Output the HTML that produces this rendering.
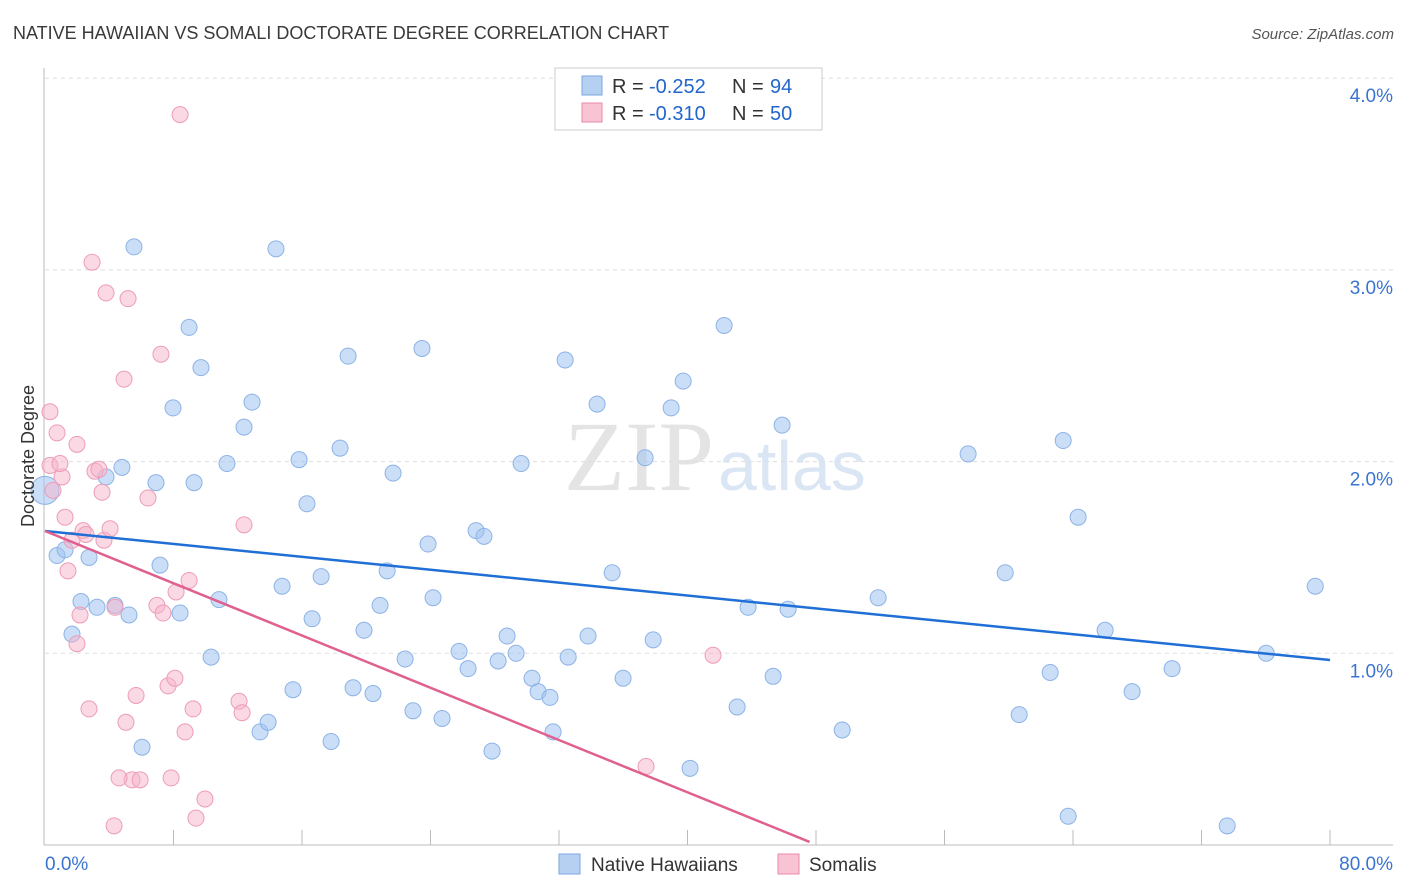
<!DOCTYPE html>
<html><head><meta charset="utf-8"><style>
body{margin:0;background:#fff;font-family:"Liberation Sans",sans-serif;}
svg{display:block}
</style></head><body>
<svg id="chart" width="1406" height="892">
<text x="13" y="39" font-size="18" fill="#3a3a3a">NATIVE HAWAIIAN VS SOMALI DOCTORATE DEGREE CORRELATION CHART</text>
<text x="1394" y="39" font-size="15" fill="#555" font-style="italic" text-anchor="end">Source: ZipAtlas.com</text>
<text x="714" y="490" font-size="100" fill="#e4e4e4" text-anchor="end" font-family="Liberation Serif">ZIP</text>
<text x="718" y="490" font-size="70" fill="#dbe6f5">atlas</text>
<g id="grid"></g>
<g id="axes"></g>
<g id="pts"></g>
<g id="lines"></g>
<text transform="translate(34,456) rotate(-90)" font-size="18" fill="#333" text-anchor="middle">Doctorate Degree</text>
<g>
<rect x="555" y="68" width="267" height="62" fill="#fff" stroke="#ccc"/>
<rect x="582" y="76" width="20" height="19" fill="#b6d0f2" stroke="#7aa6e0"/>
<rect x="582" y="103" width="20" height="19" fill="#f8c3d3" stroke="#e98aa8"/>
<text x="612" y="93" font-size="20" fill="#333">R =</text>
<text x="649" y="93" font-size="20" fill="#2266cc">-0.252</text>
<text x="732" y="93" font-size="20" fill="#333">N =</text>
<text x="770" y="93" font-size="20" fill="#2266cc">94</text>
<text x="612" y="120" font-size="20" fill="#333">R =</text>
<text x="649" y="120" font-size="20" fill="#2266cc">-0.310</text>
<text x="732" y="120" font-size="20" fill="#333">N =</text>
<text x="770" y="120" font-size="20" fill="#2266cc">50</text>
</g>
<g>
<rect x="559" y="854" width="21" height="20" fill="#b6d0f2" stroke="#7aa6e0"/>
<text x="591" y="871" font-size="19" fill="#333">Native Hawaiians</text>
<rect x="778" y="854" width="21" height="20" fill="#f8c3d3" stroke="#e98aa8"/>
<text x="809" y="871" font-size="19" fill="#333">Somalis</text>
</g>
</svg>
<script>
const blueX=[0.0,0.75,1.25,1.68,2.24,2.74,3.24,3.80,4.36,4.79,5.23,5.54,6.04,6.91,7.16,7.97,8.41,8.97,9.28,9.71,10.34,10.83,11.33,12.39,12.89,13.39,13.89,14.38,14.76,15.44,15.82,16.31,16.63,17.19,17.81,18.37,18.87,19.18,19.86,20.42,20.86,21.30,21.67,22.42,22.91,23.47,23.85,24.16,24.72,25.78,26.34,26.84,27.33,27.83,28.21,28.77,29.33,29.64,30.32,30.70,31.44,31.63,32.38,32.57,33.81,34.37,35.31,35.99,37.36,37.86,38.98,39.73,40.16,42.28,43.09,43.77,45.33,45.89,46.26,49.63,51.87,57.47,59.78,60.65,62.58,63.39,63.70,64.32,66.00,67.68,70.17,73.60,76.03,79.08];
const blueY=[1.85,1.51,1.54,1.10,1.27,1.50,1.24,1.92,1.25,1.97,1.20,3.12,0.51,1.89,1.46,2.28,1.21,2.70,1.89,2.49,0.98,1.28,1.99,2.18,2.31,0.59,0.64,3.11,1.35,0.81,2.01,1.78,1.18,1.40,0.54,2.07,2.55,0.82,1.12,0.79,1.25,1.43,1.94,0.97,0.70,2.59,1.57,1.29,0.66,1.01,0.92,1.64,1.61,0.49,0.96,1.09,1.00,1.99,0.87,0.80,0.77,0.59,2.53,0.98,1.09,2.30,1.42,0.87,2.02,1.07,2.28,2.42,0.40,2.71,0.72,1.24,0.88,2.19,1.23,0.60,1.29,2.04,1.42,0.68,0.90,2.11,0.15,1.71,1.12,0.80,0.92,0.10,1.00,1.35];
const pinkX=[0.31,0.31,0.50,0.75,1.06,0.93,1.25,1.43,1.68,1.99,1.99,2.18,2.37,2.55,2.74,2.93,3.11,3.36,3.55,3.67,3.80,4.05,4.36,4.92,5.04,5.17,5.42,5.67,5.92,4.61,6.41,6.97,7.22,7.35,7.66,7.85,8.09,8.16,8.41,8.72,8.97,9.22,9.40,9.96,4.30,12.08,12.27,12.39,37.42,41.59];
const pinkY=[2.26,1.98,1.85,2.15,1.92,1.99,1.71,1.43,1.59,2.09,1.05,1.20,1.64,1.62,0.71,3.04,1.95,1.96,1.84,1.59,2.88,1.65,1.24,2.43,0.64,2.85,0.34,0.78,0.34,0.35,1.81,1.25,2.56,1.21,0.83,0.35,0.87,1.32,3.81,0.59,1.38,0.71,0.14,0.24,0.10,0.75,0.69,1.67,0.41,0.99];
const blueTrend=[1.638,0.965];
const pinkTrend=[1.638,0.016,47.6];
const yTicks=[1,2,3,4];
const xTicks=[0,8,16,24,32,40,48,56,64,72,80];
const NS="http://www.w3.org/2000/svg";
const sx=v=>45+v/80*1285, sy=v=>845-v*191.7;
function mk(p,t,a){const e=document.createElementNS(NS,t);for(const k in a)e.setAttribute(k,a[k]);p.appendChild(e);return e;}
const grid=document.getElementById('grid'),axes=document.getElementById('axes');
yTicks.forEach(v=>{
 const l=mk(grid,'line',{x1:45,x2:1393,y1:sy(v),y2:sy(v),stroke:'#ddd','stroke-dasharray':'4,4'});
 
 
 const t=mk(axes,'text',{x:1393,y:sy(v)+24,'font-size':19,fill:'#3b74d0','text-anchor':'end'});t.textContent=v.toFixed(1)+'%';
 
 
});
const ya=mk(axes,'line',{x1:44,x2:44,y1:68,y2:845,stroke:'#bbb'});


const xa=mk(axes,'line',{x1:44,x2:1393,y1:845,y2:845,stroke:'#bbb'});


xTicks.forEach(v=>{if(v>0){const t=mk(axes,'line',{x1:sx(v),x2:sx(v),y1:830,y2:845,stroke:'#bbb'});
 
 }});
[[0,'start',45],[80,'end',1393]].forEach(([v,a,x])=>{const t=mk(axes,'text',{x:x,y:870,'font-size':19,fill:'#3b74d0','text-anchor':a});t.textContent=v.toFixed(1)+'%';
 
 });
const pts=document.getElementById('pts');
blueX.forEach((x,i)=>{const c=mk(pts,'circle',{cx:sx(x),cy:sy(blueY[i]),r:i==0?14:8,fill:'rgba(160,195,240,0.55)',stroke:'#8db3e6','stroke-width':1});
 
 });
pinkX.forEach((x,i)=>{const c=mk(pts,'circle',{cx:sx(x),cy:sy(pinkY[i]),r:8,fill:'rgba(245,180,202,0.5)',stroke:'#ee9cb6','stroke-width':1});
 
 });
const lines=document.getElementById('lines');
const bl=mk(lines,'line',{x1:sx(0),y1:sy(blueTrend[0]),x2:sx(80),y2:sy(blueTrend[1]),stroke:'#1f6fd6','stroke-width':2.5});


const pl=mk(lines,'line',{x1:sx(0),y1:sy(pinkTrend[0]),x2:sx(pinkTrend[2]),y2:sy(pinkTrend[1]),stroke:'#e0608f','stroke-width':2.5});


</script>
</body></html>
